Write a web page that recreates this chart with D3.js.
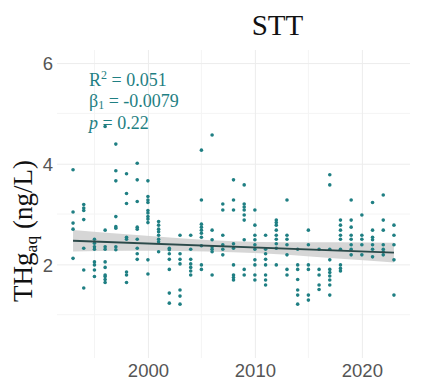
<!DOCTYPE html>
<html>
<head>
<meta charset="utf-8">
<script src="https://cdn.jsdelivr.net/npm/d3@7"></script>
<style>
  html, body { margin: 0; padding: 0; background: #fff; }
  svg { display: block; }
</style>
</head>
<body>
<svg id="chart" width="426" height="381"></svg>
<script>
// Sampling years and total aqueous mercury (ng/L) measured in each year
const years = [1993, 1994, 1995, 1996, 1997, 1998, 1999, 2000, 2001, 2002, 2003,
  2004, 2005, 2006, 2007, 2008, 2009, 2010, 2011, 2012, 2013, 2014, 2015, 2016,
  2017, 2018, 2019, 2020, 2021, 2022, 2023];
const thgByYear = [
  [3.88, 3.04, 2.82, 2.70, 2.12],
  [3.19, 3.12, 3.07, 2.89, 2.32, 1.89, 1.53],
  [2.50, 2.42, 2.35, 2.30, 2.05, 1.99, 1.89, 1.76],
  [4.74, 2.68, 2.35, 2.30, 2.05, 1.94, 1.79, 1.76, 1.70, 1.64],
  [4.39, 3.86, 3.66, 2.95, 2.75, 2.72, 2.35, 2.29],
  [3.80, 3.41, 3.21, 2.54, 2.50, 1.85, 1.79, 1.64],
  [4.01, 3.68, 3.25, 2.74, 2.70, 2.50, 2.32, 2.21, 2.10],
  [3.66, 3.35, 3.28, 3.23, 3.07, 3.02, 2.95, 2.90, 2.83, 2.09, 1.81],
  [2.85, 2.78, 2.70, 2.65, 2.58, 2.50, 2.45, 2.25],
  [2.32, 2.29, 2.21, 2.10, 1.90, 1.43, 1.23],
  [2.58, 2.21, 2.10, 2.01, 1.49, 1.37, 1.21],
  [2.58, 2.30, 2.10, 2.01, 1.94, 1.87, 1.79],
  [4.27, 3.28, 2.80, 2.74, 2.68, 2.62, 2.54, 2.37, 1.99, 1.90],
  [4.57, 2.68, 2.49, 2.35, 2.30, 2.25, 1.79],
  [3.20, 3.08, 2.58, 2.39, 2.30, 2.19],
  [3.68, 3.28, 3.08, 2.41, 2.32, 1.99, 1.79, 1.74, 1.69],
  [3.58, 3.20, 3.14, 3.08, 2.98, 2.88, 2.49, 1.90, 1.79],
  [3.08, 2.78, 2.58, 2.49, 2.39, 2.30, 2.09, 1.99, 1.79, 1.69],
  [2.58, 2.30, 2.21, 2.10, 1.99, 1.79, 1.69, 1.59],
  [2.88, 2.83, 2.78, 2.68, 2.58, 2.50, 2.41, 2.32, 1.99],
  [3.28, 2.58, 2.50, 2.39, 2.19, 1.90, 1.79],
  [2.30, 1.99, 1.90, 1.70, 1.49, 1.39, 1.21],
  [2.68, 2.39, 1.99, 1.90, 1.39, 1.29],
  [2.30, 1.90, 1.79, 1.59, 1.50],
  [3.78, 3.58, 2.30, 2.09, 1.90, 1.84, 1.77, 1.69, 1.59, 1.39],
  [2.88, 2.78, 2.68, 2.58, 2.50, 2.30, 1.99, 1.92, 1.87],
  [3.28, 2.88, 2.74, 2.58, 2.50, 2.39, 2.30, 2.19],
  [2.98, 2.58, 2.50, 2.39, 2.19],
  [3.23, 2.68, 2.54, 2.49, 2.39, 2.30, 2.15],
  [3.38, 2.88, 2.68, 2.39, 2.30, 2.25, 2.19],
  [2.78, 2.58, 2.39, 2.09, 1.39]
];

// Linear trend (end points) and its 95% confidence band
const fitYears = [1993, 2023];
const fitValues = [2.470, 2.233];
const bandYears = [1993, 1998, 2003, 2008, 2013, 2018, 2023];
const bandLower = [2.255, 2.270, 2.265, 2.240, 2.190, 2.110, 2.040];
const bandUpper = [2.685, 2.600, 2.520, 2.460, 2.440, 2.440, 2.430];

// Axis ticks
const xMajorTicks = [2000, 2010, 2020];
const xMinorTicks = [1995, 2005, 2015];
const yMajorTicks = [2, 4, 6];
const yMinorTicks = [1, 3, 5];

// Regression summary
const statR2 = "0.051";
const statBeta1 = "-0.0079";
const statP = "0.22";
const siteName = "STT";

const svg = d3.select("#chart");
const panel = { left: 57, right: 410, top: 50, bottom: 358 };

const x = d3.scaleLinear().domain([1991.5, 2024.5]).range([panel.left, panel.right]);
const y = d3.scaleLinear().domain([0.14, 6.26]).range([panel.bottom, panel.top]);

const teal = "#1f7f83";
const grid = svg.append("g");

// minor grid
grid.selectAll("line.xminor").data(xMinorTicks).join("line")
  .attr("class", "xminor")
  .attr("x1", d => x(d)).attr("x2", d => x(d))
  .attr("y1", panel.top).attr("y2", panel.bottom)
  .attr("stroke", "#f4f4f4").attr("stroke-width", 1);
grid.selectAll("line.yminor").data(yMinorTicks).join("line")
  .attr("class", "yminor")
  .attr("x1", panel.left).attr("x2", panel.right)
  .attr("y1", d => y(d)).attr("y2", d => y(d))
  .attr("stroke", "#f4f4f4").attr("stroke-width", 1);

// major grid via axes with full-length ticks
const xAxis = d3.axisBottom(x).tickValues(xMajorTicks).tickFormat(d3.format("d"))
  .tickSize(-(panel.bottom - panel.top)).tickPadding(6);
const gx = svg.append("g").attr("transform", `translate(0,${panel.bottom})`).call(xAxis);
gx.select(".domain").remove();
gx.selectAll(".tick line").attr("stroke", "#ececec").attr("stroke-width", 1);
gx.selectAll(".tick text")
  .attr("fill", "#555").attr("font-family", "Liberation Sans, Arial, sans-serif")
  .attr("font-size", 18.5).attr("dy", 0).attr("y", 19);

const yAxis = d3.axisLeft(y).tickValues(yMajorTicks).tickFormat(d3.format("d"))
  .tickSize(-(panel.right - panel.left)).tickPadding(4);
const gy = svg.append("g").attr("transform", `translate(${panel.left},0)`).call(yAxis);
gy.select(".domain").remove();
gy.selectAll(".tick line").attr("stroke", "#ececec").attr("stroke-width", 1);
gy.selectAll(".tick text")
  .attr("fill", "#555").attr("font-family", "Liberation Sans, Arial, sans-serif")
  .attr("font-size", 18.5).attr("x", -4).attr("dy", "0.36em");

// confidence band
const bandData = bandYears.map((yr, i) => ({ yr, lo: bandLower[i], hi: bandUpper[i] }));
svg.append("path").datum(bandData)
  .attr("d", d3.area().curve(d3.curveMonotoneX)
    .x(d => x(d.yr)).y0(d => y(d.lo)).y1(d => y(d.hi)))
  .attr("fill", "#cfcfcf").attr("fill-opacity", 0.85);

// points
const points = [];
years.forEach((yr, i) => thgByYear[i].forEach(v => points.push({ yr, v })));
svg.append("g").selectAll("circle").data(points).join("circle")
  .attr("cx", d => x(d.yr)).attr("cy", d => y(d.v)).attr("r", 1.8)
  .attr("fill", teal);

// trend line
svg.append("path").datum(fitYears.map((yr, i) => ({ yr, v: fitValues[i] })))
  .attr("d", d3.line().x(d => x(d.yr)).y(d => y(d.v)))
  .attr("fill", "none").attr("stroke", "#2c4a4a").attr("stroke-width", 1.8);

// title
svg.append("text").attr("x", 277.5).attr("y", 35).attr("text-anchor", "middle")
  .attr("font-family", "Liberation Serif, Times New Roman, serif")
  .attr("font-size", 29).attr("fill", "#111").text(siteName);

// y-axis title with subscript
const yTitle = svg.append("text")
  .attr("transform", "translate(32,231) rotate(-90)")
  .attr("text-anchor", "middle")
  .attr("font-family", "Liberation Serif, Times New Roman, serif")
  .attr("font-size", 27).attr("fill", "#111");
yTitle.append("tspan").text("THg");
yTitle.append("tspan").attr("font-size", 17.5).attr("dy", 5).text("aq");
yTitle.append("tspan").attr("dy", -5).text(" (ng/L)");

// regression statistics
const stats = svg.append("g")
  .attr("font-family", "Liberation Serif, Times New Roman, serif")
  .attr("font-size", 18).attr("fill", teal);
const l1 = stats.append("text").attr("x", 89).attr("y", 85.5);
l1.append("tspan").text("R");
l1.append("tspan").attr("font-size", 12).attr("dy", -7).text("2");
l1.append("tspan").attr("dy", 7).text(" = " + statR2);
const l2 = stats.append("text").attr("x", 89).attr("y", 107);
l2.append("tspan").text("β");
l2.append("tspan").attr("font-size", 12).attr("dy", 2).text("1");
l2.append("tspan").attr("dy", -2).text(" = " + statBeta1);
const l3 = stats.append("text").attr("x", 89).attr("y", 128.5);
l3.append("tspan").attr("font-style", "italic").text("p");
l3.append("tspan").text(" = " + statP);
</script>
</body>
</html>
